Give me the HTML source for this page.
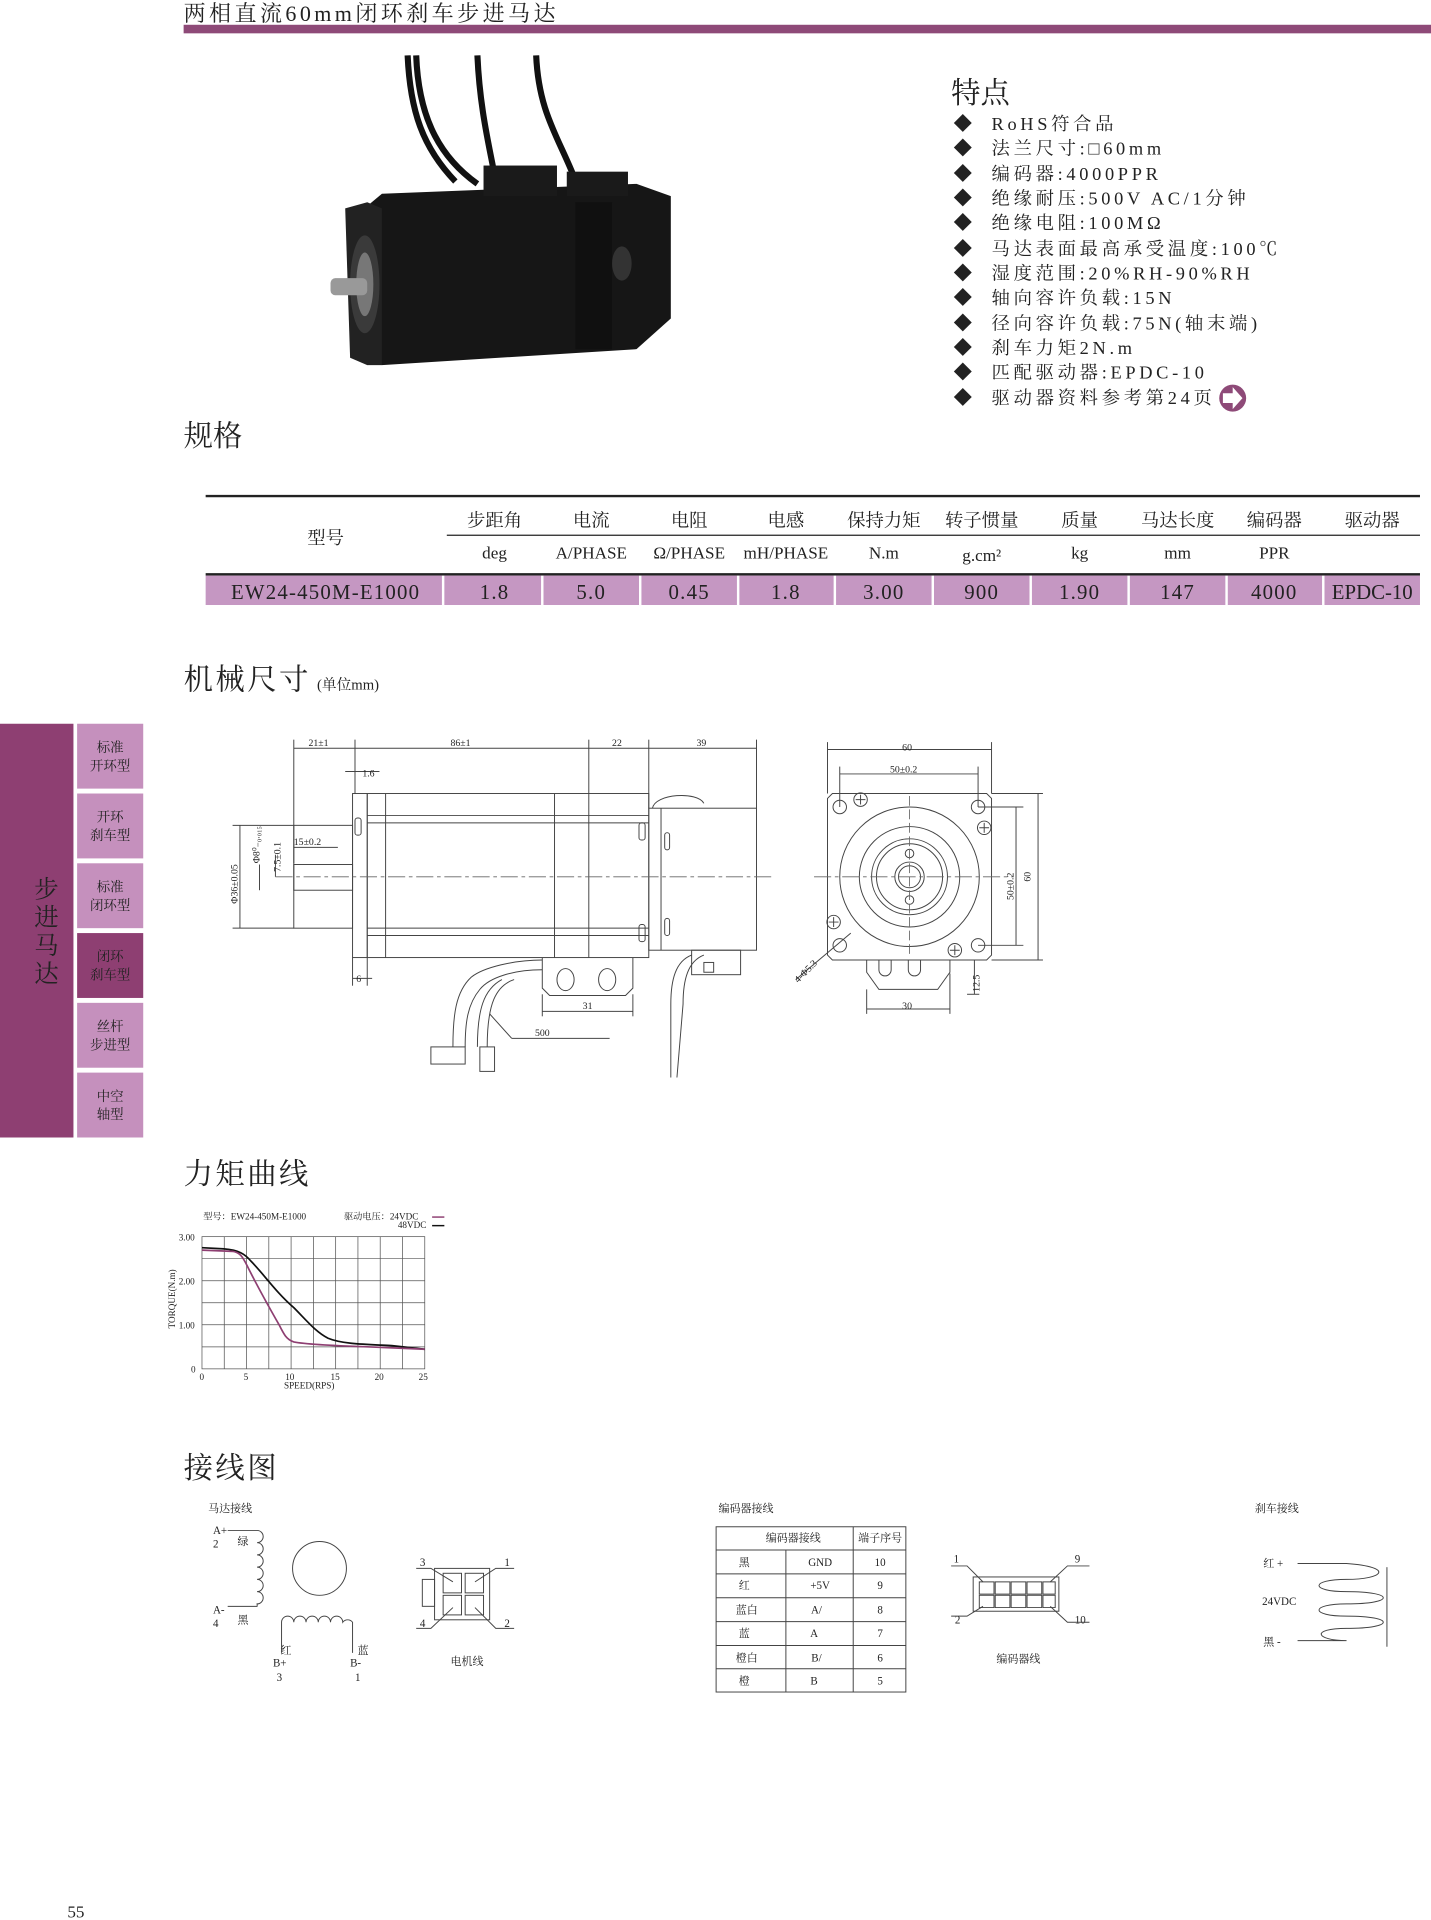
<!DOCTYPE html>
<html><head><meta charset="utf-8"><style>
html,body{margin:0;padding:0;background:#fff}
svg{display:block}
text{font-family:"Liberation Serif","Noto Serif CJK SC",serif;fill:#222}
.s{font-family:"Liberation Sans","Noto Sans CJK SC",sans-serif}
</style></head><body>
<svg width="1431" height="1920" viewBox="0 0 1169 1568" xmlns="http://www.w3.org/2000/svg">
<!-- header -->
<text x="150" y="17" font-size="18" fill="#222" letter-spacing="2.8">两相直流60mm闭环刹车步进马达</text>
<rect x="150" y="20" width="1019" height="7" fill="#8e4a78"/>

<!-- motor photo -->
<g>
<path d="M333 45 C335 90 345 120 372 148" stroke="#111" stroke-width="5" fill="none"/>
<path d="M340 45 C342 100 362 130 390 150" stroke="#111" stroke-width="5" fill="none"/>
<path d="M390 45 C392 90 400 120 405 148" stroke="#111" stroke-width="5" fill="none"/>
<path d="M438 45 C440 90 455 110 468 142" stroke="#111" stroke-width="5" fill="none"/>
<polygon points="300,168 312,158 520,150 548,160 548,260 520,285 312,298 300,290" fill="#161616"/>
<polygon points="282,170 300,165 312,170 312,298 300,298 286,292" fill="#222"/>
<rect x="395" y="135" width="60" height="25" fill="#1a1a1a"/>
<rect x="463" y="140" width="50" height="20" fill="#1a1a1a"/>
<ellipse cx="298" cy="232" rx="12" ry="40" fill="#3a3a3a"/>
<ellipse cx="298" cy="232" rx="7" ry="26" fill="#777"/>
<rect x="270" y="227" width="30" height="14" rx="4" fill="#999"/>
<rect x="470" y="165" width="30" height="120" fill="#101010"/>
<ellipse cx="508" cy="215" rx="8" ry="14" fill="#333"/>
</g>

<!-- features -->
<text x="777" y="84" font-size="24">特点</text>
<g font-size="15">
<text x="779" y="106">◆</text><text x="779" y="126">◆</text><text x="779" y="147">◆</text><text x="779" y="167">◆</text><text x="779" y="187">◆</text><text x="779" y="208">◆</text><text x="779" y="228">◆</text><text x="779" y="248">◆</text><text x="779" y="269">◆</text><text x="779" y="289">◆</text><text x="779" y="309">◆</text><text x="779" y="330">◆</text>
</g>
<g font-size="15" letter-spacing="3">
<text x="810" y="106">RoHS符合品</text>
<text x="810" y="126">法兰尺寸:□60mm</text>
<text x="810" y="147">编码器:4000PPR</text>
<text x="810" y="167">绝缘耐压:500V AC/1分钟</text>
<text x="810" y="187">绝缘电阻:100MΩ</text>
<text x="810" y="208">马达表面最高承受温度:100℃</text>
<text x="810" y="228">湿度范围:20%RH-90%RH</text>
<text x="810" y="248">轴向容许负载:15N</text>
<text x="810" y="269">径向容许负载:75N(轴末端)</text>
<text x="810" y="289">刹车力矩2N.m</text>
<text x="810" y="309">匹配驱动器:EPDC-10</text>
<text x="810" y="330">驱动器资料参考第24页</text>
</g>
<circle cx="1007" cy="325" r="11" fill="#8e4a78"/>
<path d="M999 321 h8 v-5 l8 9 l-8 9 v-5 h-8z" fill="#fff"/>

<text x="150" y="364" font-size="24">规格</text>

<!-- table -->
<line x1="168" y1="405" x2="1160" y2="405" stroke="#222" stroke-width="2"/>
<line x1="365" y1="437" x2="1160" y2="437" stroke="#222" stroke-width="1"/>
<line x1="168" y1="469" x2="1160" y2="469" stroke="#222" stroke-width="2"/>
<rect x="168" y="470" width="992" height="24" fill="#c597c2"/>
<g stroke="#fff" stroke-width="2">
<line x1="362" y1="470" x2="362" y2="494"/><line x1="443" y1="470" x2="443" y2="494"/><line x1="523" y1="470" x2="523" y2="494"/><line x1="603" y1="470" x2="603" y2="494"/><line x1="682" y1="470" x2="682" y2="494"/><line x1="762" y1="470" x2="762" y2="494"/><line x1="842" y1="470" x2="842" y2="494"/><line x1="922" y1="470" x2="922" y2="494"/><line x1="1002" y1="470" x2="1002" y2="494"/><line x1="1081" y1="470" x2="1081" y2="494"/>
</g>
<g font-size="15" text-anchor="middle">
<text x="266" y="444">型号</text>
<text x="404" y="430">步距角</text><text x="483" y="430">电流</text><text x="563" y="430">电阻</text><text x="642" y="430">电感</text><text x="722" y="430">保持力矩</text><text x="802" y="430">转子惯量</text><text x="882" y="430">质量</text><text x="962" y="430">马达长度</text><text x="1041" y="430">编码器</text><text x="1121" y="430">驱动器</text>
</g>
<g font-size="14" text-anchor="middle">
<text x="404" y="456">deg</text><text x="483" y="456">A/PHASE</text><text x="563" y="456">Ω/PHASE</text><text x="642" y="456">mH/PHASE</text><text x="722" y="456">N.m</text><text x="802" y="458">g.cm²</text><text x="882" y="456">kg</text><text x="962" y="456">mm</text><text x="1041" y="456">PPR</text>
</g>
<g font-size="17" text-anchor="middle" letter-spacing="1">
<text x="266" y="489">EW24-450M-E1000</text><text x="404" y="489">1.8</text><text x="483" y="489">5.0</text><text x="563" y="489">0.45</text><text x="642" y="489">1.8</text><text x="722" y="489">3.00</text><text x="802" y="489">900</text><text x="882" y="489">1.90</text><text x="962" y="489">147</text><text x="1041" y="489">4000</text><text x="1121" y="489" letter-spacing="0">EPDC-10</text>
</g>

<!-- mechanical -->
<text x="150" y="563" font-size="24" letter-spacing="2">机械尺寸</text><text x="259" y="563" font-size="12">(单位mm)</text>

<!-- sidebar -->
<rect x="0" y="591" width="60" height="338" fill="#8e3f72"/>
<g font-size="20" fill="#f3e6f0" text-anchor="middle">
<text x="38" y="733" fill="#f3e6f0">步</text><text x="38" y="756" fill="#f3e6f0">进</text><text x="38" y="779" fill="#f3e6f0">马</text><text x="38" y="802" fill="#f3e6f0">达</text>
</g>
<g fill="#c590bd">
<rect x="63" y="591" width="54" height="53"/><rect x="63" y="648" width="54" height="53"/><rect x="63" y="705" width="54" height="53"/>
<rect x="63" y="762" width="54" height="53" fill="#8e3f72"/><rect x="63" y="819" width="54" height="53"/><rect x="63" y="876" width="54" height="53"/>
</g>
<g font-size="11" text-anchor="middle">
<text x="90" y="614" fill="#fff">标准</text><text x="90" y="629" fill="#fff">开环型</text>
<text x="90" y="671" fill="#fff">开环</text><text x="90" y="686" fill="#fff">刹车型</text>
<text x="90" y="728" fill="#fff">标准</text><text x="90" y="743" fill="#fff">闭环型</text>
<text x="90" y="785" fill="#e8c8e0">闭环</text><text x="90" y="800" fill="#e8c8e0">刹车型</text>
<text x="90" y="842" fill="#fff">丝杆</text><text x="90" y="857" fill="#fff">步进型</text>
<text x="90" y="899" fill="#fff">中空</text><text x="90" y="914" fill="#fff">轴型</text>
</g>

<!-- side view drawing -->
<g stroke="#444" stroke-width="0.8" fill="none">
<line x1="240" y1="604" x2="240" y2="705"/><line x1="290" y1="604" x2="290" y2="648"/><line x1="481" y1="604" x2="481" y2="648"/><line x1="530" y1="604" x2="530" y2="660"/><line x1="618" y1="604" x2="618" y2="660"/>
<line x1="240" y1="611" x2="618" y2="611"/>
<line x1="282" y1="630" x2="310" y2="630"/>
<rect x="288" y="648" width="12" height="134"/>
<rect x="300" y="648" width="230" height="134"/>
<line x1="315" y1="648" x2="315" y2="782"/><line x1="453" y1="648" x2="453" y2="782"/><line x1="481" y1="648" x2="481" y2="782"/>
<line x1="300" y1="666" x2="530" y2="666"/><line x1="300" y1="672" x2="530" y2="672"/>
<line x1="300" y1="758" x2="530" y2="758"/><line x1="300" y1="764" x2="530" y2="764"/>
<rect x="290" y="668" width="5" height="14" rx="2"/><rect x="522" y="672" width="5" height="14" rx="2"/><rect x="522" y="755" width="5" height="14" rx="2"/>
<rect x="530" y="660" width="88" height="116"/><line x1="540" y1="660" x2="540" y2="776"/>
<path d="M533 660 C535 648 570 646 575 656"/>
<rect x="543" y="680" width="4" height="14" rx="2"/><rect x="543" y="750" width="4" height="14" rx="2"/>
<rect x="240" y="674" width="48" height="84"/>
<rect x="240" y="706" width="48" height="21"/>
<line x1="190" y1="674" x2="240" y2="674"/><line x1="190" y1="758" x2="240" y2="758"/>
<line x1="196" y1="674" x2="196" y2="758"/>
<line x1="212" y1="706" x2="212" y2="727"/><line x1="225" y1="698" x2="225" y2="716"/>
<line x1="240" y1="692" x2="276" y2="692"/>
<line x1="288" y1="799" x2="304" y2="799"/><line x1="288" y1="782" x2="288" y2="805"/><line x1="300" y1="782" x2="300" y2="805"/>
<path d="M443 782 v25 l6 6 h62 l6 -6 v-25"/>
<ellipse cx="462" cy="800" rx="7" ry="9"/><ellipse cx="496" cy="800" rx="7" ry="9"/>
<line x1="443" y1="812" x2="443" y2="830"/><line x1="517" y1="812" x2="517" y2="830"/><line x1="443" y1="826" x2="517" y2="826"/>
<path d="M443 784 C420 784 395 790 385 798 C372 810 370 830 370 855"/>
<path d="M443 792 C420 792 400 798 392 808 C382 820 380 835 380 855"/>
<path d="M420 800 C405 805 398 820 398 855"/>
<path d="M410 800 C395 808 390 825 390 855"/>
<rect x="352" y="855" width="28" height="14"/><rect x="392" y="855" width="12" height="20"/>
<line x1="400" y1="828" x2="418" y2="848"/><line x1="418" y1="848" x2="498" y2="848"/>
<rect x="565" y="776" width="40" height="20"/><rect x="575" y="786" width="8" height="8"/>
<path d="M565 780 C552 785 548 800 548 820 L548 880"/><path d="M575 780 C562 785 558 800 558 820 L553 880"/>
</g>
<line x1="225" y1="716" x2="632" y2="716" stroke="#666" stroke-width="0.7" stroke-dasharray="14,3,3,3"/>
<g font-size="8" fill="#333">
<text x="252" y="609">21±1</text><text x="368" y="609">86±1</text><text x="500" y="609">22</text><text x="569" y="609">39</text>
<text x="296" y="634">1.6</text><text x="240" y="690">15±0.2</text><text x="291" y="802">6</text><text x="476" y="824">31</text><text x="437" y="846">500</text>
<text transform="translate(194,738) rotate(-90)">Φ36±0.05</text>
<text transform="translate(212,705) rotate(-90)">Φ8⁰₋₀.₀₁₅</text>
<text transform="translate(229,712) rotate(-90)">7.5±0.1</text>
</g>

<!-- end view -->
<g stroke="#444" stroke-width="0.8" fill="none">
<line x1="676" y1="606" x2="676" y2="648"/><line x1="810" y1="606" x2="810" y2="648"/><line x1="676" y1="612" x2="810" y2="612"/>
<line x1="686" y1="626" x2="686" y2="659"/><line x1="799" y1="626" x2="799" y2="659"/><line x1="686" y1="632" x2="799" y2="632"/>
<path d="M680 648 H806 L810 652 V780 L806 784 H680 L676 780 V652Z"/>
<line x1="810" y1="648" x2="852" y2="648"/><line x1="810" y1="784" x2="852" y2="784"/><line x1="848" y1="648" x2="848" y2="784"/>
<line x1="799" y1="659" x2="836" y2="659"/><line x1="799" y1="772" x2="836" y2="772"/><line x1="830" y1="659" x2="830" y2="772"/>
<circle cx="743" cy="716" r="57"/><circle cx="743" cy="716" r="41"/><circle cx="743" cy="716" r="31"/><circle cx="743" cy="716" r="27"/>
<circle cx="743" cy="716" r="12"/><circle cx="743" cy="716" r="9"/>
<circle cx="743" cy="697" r="3.5"/><circle cx="743" cy="735" r="3.5"/>
<circle cx="686" cy="659" r="5.5"/><circle cx="799" cy="659" r="5.5"/><circle cx="686" cy="772" r="5.5"/><circle cx="799" cy="772" r="5.5"/>
<circle cx="703" cy="653" r="5.5"/><circle cx="804" cy="676" r="5.5"/><circle cx="681" cy="753" r="5.5"/><circle cx="780" cy="776" r="5.5"/>
<path d="M699 653h8M703 649v8M800 676h8M804 672v8M677 753h8M681 749v8M776 776h8M780 772v8"/>
<path d="M708 784 v10 l10 14 h48 l10 -14 v-10"/>
<path d="M718 784 v8 a5 5 0 0 0 10 0 v-8 M742 784 v8 a5 5 0 0 0 10 0 v-8"/>
<line x1="708" y1="808" x2="708" y2="828"/><line x1="776" y1="795" x2="776" y2="828"/><line x1="708" y1="824" x2="776" y2="824"/>
<line x1="790" y1="784" x2="800" y2="784"/><line x1="790" y1="812" x2="800" y2="812"/><line x1="796" y1="784" x2="796" y2="812"/>
<line x1="650" y1="800" x2="695" y2="762"/>
</g>
<line x1="743" y1="650" x2="743" y2="780" stroke="#666" stroke-width="0.7" stroke-dasharray="8,3"/>
<line x1="665" y1="716" x2="828" y2="716" stroke="#666" stroke-width="0.7" stroke-dasharray="14,3,3,3"/>
<g font-size="8" fill="#333">
<text x="737" y="613">60</text><text x="727" y="631">50±0.2</text><text x="737" y="824">30</text>
<text transform="translate(828,735) rotate(-90)">50±0.2</text>
<text transform="translate(842,720) rotate(-90)">60</text>
<text transform="translate(800,810) rotate(-90)">12.5</text>
<text transform="translate(652,803) rotate(-45)">4-Φ5.3</text>
</g>

<!-- torque -->
<text x="150" y="967" font-size="24" letter-spacing="2">力矩曲线</text>
<g font-size="7.5" fill="#333">
<text x="166" y="996">型号：EW24-450M-E1000</text><text x="281" y="996">驱动电压：24VDC</text><text x="325" y="1003">48VDC</text>
<text x="146" y="1013">3.00</text><text x="146" y="1049">2.00</text><text x="146" y="1085">1.00</text><text x="156" y="1121">0</text>
<text x="163" y="1127">0</text><text x="199" y="1127">5</text><text x="233" y="1127">10</text><text x="270" y="1127">15</text><text x="306" y="1127">20</text><text x="342" y="1127">25</text>
<text x="232" y="1134">SPEED(RPS)</text>
<text transform="translate(143,1085) rotate(-90)">TORQUE(N.m)</text>
</g>
<line x1="353" y1="994" x2="363" y2="994" stroke="#8e3f72" stroke-width="1.2"/>
<line x1="353" y1="1001" x2="363" y2="1001" stroke="#111" stroke-width="1.2"/>
<g stroke="#555" stroke-width="0.6">
<rect x="165" y="1010" width="182" height="108" fill="none"/>
<path d="M183.2 1010V1118M201.4 1010V1118M219.6 1010V1118M237.8 1010V1118M256 1010V1118M274.2 1010V1118M292.4 1010V1118M310.6 1010V1118M328.8 1010V1118M165 1028H347M165 1046H347M165 1064H347M165 1082H347M165 1100H347"/>
</g>
<path d="M165 1019 L183 1020 C195 1021 200 1024 205 1030 C215 1040 225 1055 240 1068 C250 1078 258 1088 268 1093 C280 1098 300 1098 320 1099 L347 1102" stroke="#111" stroke-width="1.4" fill="none"/>
<path d="M165 1021 L190 1022 C196 1023 198 1026 202 1034 C210 1050 220 1068 228 1082 C232 1090 234 1094 240 1096 C250 1098 270 1099 300 1100 L347 1102" stroke="#8e3f72" stroke-width="1.4" fill="none"/>

<!-- wiring -->
<text x="150" y="1207" font-size="24" letter-spacing="2">接线图</text>
<g font-size="9" fill="#333">
<text x="170" y="1235">马达接线</text>
<text x="174" y="1253">A+</text><text x="174" y="1264">2</text><text x="194" y="1262">绿</text>
<text x="174" y="1318">A-</text><text x="174" y="1329">4</text><text x="194" y="1326">黑</text>
<text x="229" y="1351">红</text><text x="223" y="1361">B+</text><text x="226" y="1373">3</text>
<text x="292" y="1351">蓝</text><text x="286" y="1361">B-</text><text x="290" y="1373">1</text>
<text x="343" y="1279">3</text><text x="412" y="1279">1</text><text x="343" y="1329">4</text><text x="412" y="1329">2</text>
<text x="368" y="1360">电机线</text>
<text x="587" y="1235">编码器接线</text>
<text x="779" y="1276">1</text><text x="878" y="1276">9</text><text x="780" y="1326">2</text><text x="878" y="1326">10</text>
<text x="814" y="1358">编码器线</text>
<text x="1025" y="1235">刹车接线</text>
<text x="1032" y="1280">红 +</text><text x="1031" y="1311">24VDC</text><text x="1032" y="1344">黑 -</text>
</g>
<g stroke="#444" stroke-width="0.8" fill="none">
<path d="M186 1250 H210 a5 5 0 0 1 0 10 a5 5 0 0 1 0 10 a5 5 0 0 1 0 10 a5 5 0 0 1 0 10 a5 5 0 0 1 0 10 a5 5 0 0 1 0 10 a5 5 0 0 1 0 2 H186"/>
<circle cx="261" cy="1281" r="22"/>
<path d="M230 1350 V1325 a5 5 0 0 1 10 0 a5 5 0 0 1 10 0 a5 5 0 0 1 10 0 a5 5 0 0 1 10 0 a5 5 0 0 1 10 0 a5 5 0 0 1 8 0 V1350"/>
<rect x="355" y="1281" width="45" height="42"/><rect x="345" y="1290" width="10" height="22"/>
<rect x="362" y="1285" width="15" height="16"/><rect x="380" y="1285" width="15" height="16"/><rect x="362" y="1303" width="15" height="16"/><rect x="380" y="1303" width="15" height="16"/>
<path d="M340 1281 H352 L370 1292 M420 1281 H405 L388 1292 M340 1330 H352 L370 1313 M420 1330 H405 L388 1313"/>
<rect x="585" y="1247" width="155" height="135"/>
<path d="M585 1266 H740 M585 1285.5 H740 M585 1305 H740 M585 1324.5 H740 M585 1344 H740 M585 1363 H740 M642 1266 V1382 M697 1247 V1382"/>
<rect x="795" y="1288" width="70" height="28"/>
<path d="M800 1292h12v10h-12zM813 1292h12v10h-12zM826 1292h12v10h-12zM839 1292h12v10h-12zM852 1292h10v10h-10zM800 1303h12v10h-12zM813 1303h12v10h-12zM826 1303h12v10h-12zM839 1303h12v10h-12zM852 1303h10v10h-10z"/>
<path d="M777 1279 H790 L803 1292 M890 1279 H872 L858 1292 M777 1320 H790 L803 1312 M890 1325 H872 L858 1312"/>
<path d="M1060 1277 H1100 C1140 1280 1130 1290 1100 1290 C1070 1290 1070 1300 1100 1300 C1140 1300 1140 1310 1100 1310 C1070 1310 1070 1320 1100 1320 C1140 1320 1140 1330 1100 1330 C1070 1330 1075 1340 1100 1340 H1060"/>
<line x1="1133" y1="1280" x2="1133" y2="1345"/>
</g>
<g font-size="9" fill="#333" text-anchor="middle">
<text x="648" y="1259">编码器接线</text><text x="719" y="1259">端子序号</text>
<text x="608" y="1279">黑</text><text x="670" y="1279">GND</text><text x="719" y="1279">10</text>
<text x="608" y="1298">红</text><text x="670" y="1298">+5V</text><text x="719" y="1298">9</text>
<text x="610" y="1318">蓝白</text><text x="667" y="1318">A/</text><text x="719" y="1318">8</text>
<text x="608" y="1337">蓝</text><text x="665" y="1337">A</text><text x="719" y="1337">7</text>
<text x="610" y="1357">橙白</text><text x="667" y="1357">B/</text><text x="719" y="1357">6</text>
<text x="608" y="1376">橙</text><text x="665" y="1376">B</text><text x="719" y="1376">5</text>
</g>

<text x="55" y="1566" font-size="14" fill="#333">55</text>
</svg>
</body></html>
